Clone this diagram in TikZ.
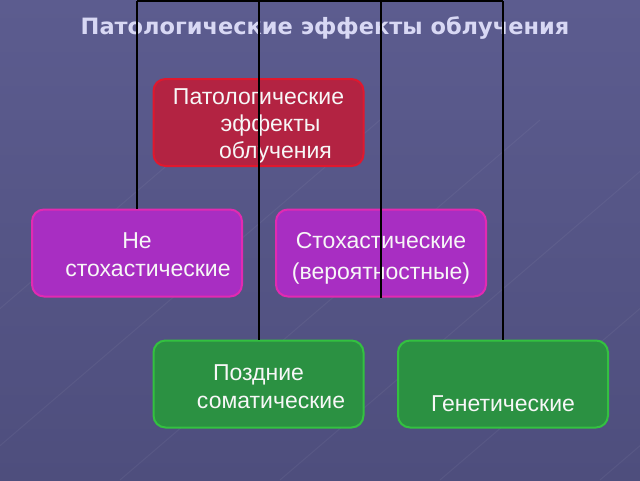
\documentclass[tikz,border=0pt]{standalone}
\usepackage{fontspec}
\setmainfont{Liberation Sans}
\newfontfamily\titlefont{DejaVu Sans}
\usepackage{tikz}
\usetikzlibrary{positioning}

\definecolor{bgtop}{HTML}{5C5C8F}
\definecolor{bgbot}{HTML}{4E4E7D}
\definecolor{redfill}{HTML}{B32342}
\definecolor{redline}{HTML}{E0182E}
\definecolor{purfill}{HTML}{A82EC2}
\definecolor{purline}{HTML}{E22AB2}
\definecolor{grnfill}{HTML}{2B9142}
\definecolor{grnline}{HTML}{33C140}
\definecolor{titlecol}{HTML}{D8D8F4}

\tikzset{
  box/.style={rounded corners=12pt, line width=2pt, minimum width=210pt,
    minimum height=87pt, align=center, text=white!94!gray,
    font=\fontsize{23}{28}\selectfont},
  redbox/.style={box, draw=redline, fill=redfill, inner ysep=0pt,
    font=\fontsize{23}{27}\selectfont},
  purbox/.style={box, draw=purline, fill=purfill},
  grnbox/.style={box, draw=grnline, fill=grnfill},
  link/.style={line width=2pt, black}
}

\begin{document}
\begin{tikzpicture}[x=1pt, y=-1pt]
  \useasboundingbox (0,0) rectangle (640,480);
  \shade[top color=bgtop, bottom color=bgbot] (0,0) rectangle (640,480);
  % faint background streaks
  \foreach \s in {-200,-40,120,280,440,600}
    \draw[white, opacity=0.05, line width=1pt] (\s,480) -- (\s+420,120);

  % title
  \node[text=titlecol, font=\titlefont\bfseries\fontsize{22.5}{26}\selectfont] (title) at (325,28) {Патологические эффекты облучения};

  % nodes
  \node[redbox] (path) at (258.5,122.5) {\rule{0pt}{22pt}Патологические\\\hspace*{24pt}эффекты\\\hspace*{34pt}облучения};
  \node[purbox] (nstoch) at (137,253) {\rule{0pt}{20pt}Не\\\hspace*{22pt}стохастические};
  \node[purbox] (stoch) at (381,253) {\rule{0pt}{26pt}Стохастические\\[3pt](вероятностные)};
  \node[grnbox] (late) at (258.5,384) {\rule{0pt}{22pt}Поздние\\\hspace*{25pt}соматические};
  \node[grnbox] (gen) at (503,384) {\mbox{}\\[27pt]Генетические};

  % edges
  \coordinate (top) at (0,1);
  \draw[link] (nstoch.north |- top) -- (gen.north |- top);
  \draw[link] (nstoch.north |- top) -- (nstoch.north);
  \draw[link] (late.north |- top) -- (late.north);
  \draw[link] (stoch.south |- top) -- (stoch.south);
  \draw[link] (gen.north |- top) -- (gen.north);
\end{tikzpicture}
\end{document}
